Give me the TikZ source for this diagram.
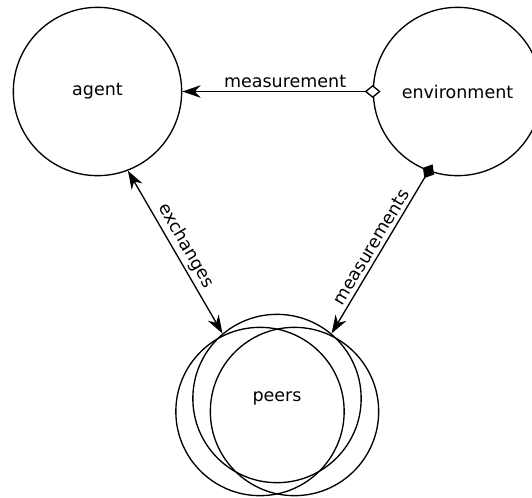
\documentclass[tikz,border=0pt]{standalone}
\usepackage{fontspec}
\setmainfont{DejaVu Sans}
\usetikzlibrary{arrows.meta, shapes.geometric}

\begin{document}
\begin{tikzpicture}[
    x=0.6pt, y=-0.6pt,
    font=\fontsize{10.5}{12.6}\selectfont,
    >={Stealth[length=11pt, width=7.5pt, inset=3.5pt]},
    odiamond/.tip={Diamond[length=9.6pt, width=7.8pt, fill=white]},
    fdiamond/.tip={Diamond[length=9.6pt, width=7.8pt]},
    entity/.style={circle, draw=black, line width=0.8pt, minimum size=101pt, inner sep=0pt, text centered},
    link/.style={draw=black, line width=0.8pt},
    edgetext/.style={inner sep=2pt},
]

    % Frame
    \useasboundingbox (0,0) rectangle (532,497);

    % Entities
    \node (agent) [entity] at (97.5,91.5) {agent};
    \node (environment) [entity] at (457.5,91.5) {environment};
    \node (peers) [entity] at (277,398.5) {peers};
    \node (peers_left) [entity] at (260,411.5) {};
    \node (peers_right) [entity] at (294.5,411.5) {};

    % Links
    \draw [link, odiamond->, shorten <=-4.8pt] (environment.west) -- node [edgetext, above, pos=0.46] {measurement} (agent.east);
    \draw [link, <->] (agent.291) -- node [edgetext, above, sloped] {exchanges} (peers.130);
    \draw [link, fdiamond->, shorten <=-4.8pt] (environment.250) -- node [edgetext, above, sloped] {measurements} (peers.50);

\end{tikzpicture}
\end{document}
